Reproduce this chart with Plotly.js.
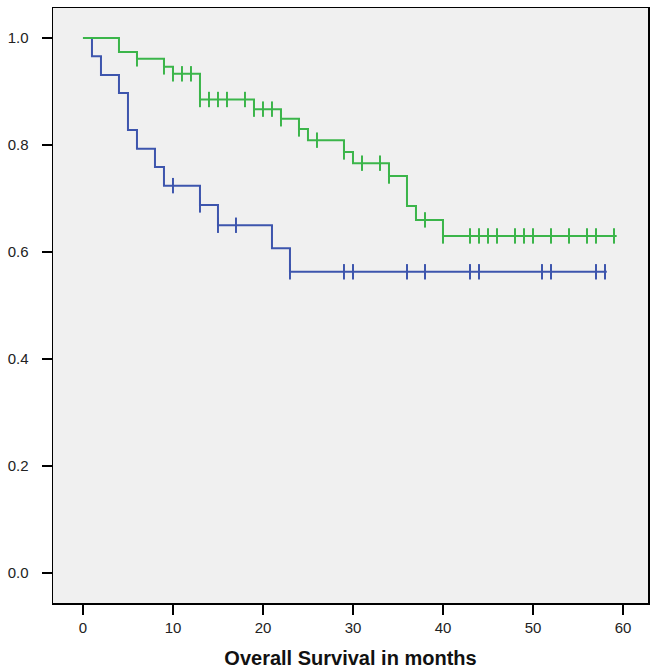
<!DOCTYPE html>
<html>
<head>
<meta charset="utf-8">
<script src="https://cdn.plot.ly/plotly-3.0.1.min.js"></script>
<style>html,body{margin:0;padding:0;background:#fff;}#chart{width:659px;height:671px;}</style>
</head>
<body>
<div id="chart"></div>
<script>
// Blue group: event times (months) and Kaplan-Meier survival
const blueTimes = [0, 1, 2, 4, 5, 6, 8, 9, 13, 15, 21, 23, 58.2];
const blueSurv  = [1.0, 0.966, 0.931, 0.897, 0.828, 0.793, 0.759, 0.724, 0.688, 0.650, 0.607, 0.563, 0.563];
const blueCensored = [10, 13, 15, 17, 23, 29, 30, 36, 38, 43, 44, 51, 52, 57, 58];

// Green group
const greenTimes = [0, 4, 6, 9, 10, 13, 19, 22, 24, 25, 29, 30, 34, 36, 37, 40, 59.3];
const greenSurv  = [1.0, 0.974, 0.961, 0.946, 0.933, 0.885, 0.867, 0.849, 0.830, 0.809, 0.787, 0.766, 0.742, 0.686, 0.660, 0.630, 0.630];
const greenCensored = [6, 9, 10, 11, 12, 13, 14, 15, 16, 18, 19, 20, 21, 22, 24, 26, 29, 31, 33, 34, 38, 40, 43, 44, 45, 46, 48, 49, 50, 52, 54, 56, 57, 59];

const xTicks = [0, 10, 20, 30, 40, 50, 60];
const yTicks = [0.0, 0.2, 0.4, 0.6, 0.8, 1.0];
const xTitle = 'Overall Survival in months';

const BLUE = '#3d55ad';
const GREEN = '#3bb54a';

function stepAt(times, surv, t) {
  let v = surv[0];
  for (let i = 0; i < times.length; i++) { if (times[i] <= t) v = surv[i]; }
  return v;
}

function curve(times, surv, color) {
  return {x: times, y: surv, mode: 'lines', type: 'scatter',
    line: {shape: 'hv', color: color, width: 2}, hoverinfo: 'skip', showlegend: false};
}
function censors(ct, times, surv, color) {
  return {x: ct, y: ct.map(t => stepAt(times, surv, t)), mode: 'markers', type: 'scatter',
    marker: {symbol: 'line-ns-open', size: 11, color: color, line: {color: color, width: 2}},
    hoverinfo: 'skip', showlegend: false};
}

const data = [
  curve(blueTimes, blueSurv, BLUE),
  censors(blueCensored, blueTimes, blueSurv, BLUE),
  curve(greenTimes, greenSurv, GREEN),
  censors(greenCensored, greenTimes, greenSurv, GREEN)
];

const layout = {
  width: 659, height: 671,
  margin: {l: 53, r: 11, t: 8, b: 68},
  paper_bgcolor: '#ffffff',
  plot_bgcolor: '#f0f0f0',
  font: {family: 'Liberation Sans, Arial, sans-serif', size: 15, color: '#222'},
  xaxis: {
    range: [-3.33, 62.78], tickvals: xTicks, ticktext: xTicks.map(String),
    ticks: 'outside', ticklen: 10, tickwidth: 1.5, tickcolor: '#000',
    showline: true, linecolor: '#000', linewidth: 1.5, mirror: true,
    showgrid: false, zeroline: false,
    tickfont: {size: 15, color: '#222'},
    title: {text: '<b>' + xTitle + '</b>', font: {size: 20, color: '#111'}, standoff: 16}
  },
  yaxis: {
    range: [-0.056, 1.056], tickvals: yTicks, ticktext: yTicks.map(v => v.toFixed(1)),
    ticks: 'outside', ticklen: 10, tickwidth: 1.5, tickcolor: '#000',
    showline: true, linecolor: '#000', linewidth: 1.5, mirror: true,
    showgrid: false, zeroline: false, ticklabelstandoff: 10,
    tickfont: {size: 15, color: '#222'}
  }
};

Plotly.newPlot('chart', data, layout, {staticPlot: true, displayModeBar: false});
</script>
</body>
</html>
